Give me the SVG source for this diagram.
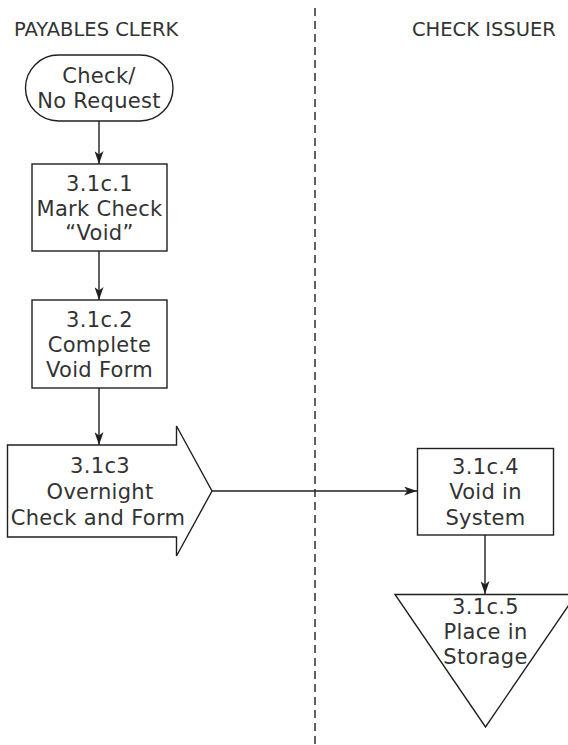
<svg xmlns="http://www.w3.org/2000/svg" width="568" height="745" viewBox="0 0 568 745">
<defs>
<marker id="arr" viewBox="0 0 13 9" refX="13" refY="4.5" markerWidth="13" markerHeight="9" markerUnits="userSpaceOnUse" orient="auto">
<path d="M0,0 L13,4.5 L0,9 L3.5,4.5 z" fill="#231f20"/>
</marker>
</defs>
<style>
.shape{fill:#fff;stroke:#231f20;stroke-width:1.4}
.conn{fill:none;stroke:#231f20;stroke-width:1.4}
.lane{fill:none;stroke:#231f20;stroke-width:1.4;stroke-dasharray:8 5}
text{font-family:"DejaVu Sans",sans-serif;fill:#333;text-anchor:middle}
.hdr{font-size:19.5px;text-anchor:start}
.lbl{font-size:21px;letter-spacing:0.3px}
</style>
<rect width="568" height="745" fill="#fff"/>
<g id="lanes">
<line class="lane" x1="315" y1="8" x2="315" y2="745"/>
<text class="hdr" x="14" y="36">PAYABLES CLERK</text>
<text class="hdr" x="412" y="36">CHECK ISSUER</text>
</g>
<g id="connectors">
<line class="conn" x1="99" y1="121" x2="99" y2="164" marker-end="url(#arr)"/>
<line class="conn" x1="99" y1="251" x2="99" y2="300" marker-end="url(#arr)"/>
<line class="conn" x1="99" y1="388" x2="99" y2="445" marker-end="url(#arr)"/>
<line class="conn" x1="212" y1="491" x2="417" y2="491" marker-end="url(#arr)"/>
<line class="conn" x1="485" y1="535" x2="485" y2="594" marker-end="url(#arr)"/>
</g>
<g id="start">
<rect class="shape" x="25.5" y="55" width="147.5" height="66" rx="33" ry="33"/>
<text class="lbl" x="99" y="83">Check/</text>
<text class="lbl" x="99" y="108">No Request</text>
</g>
<g id="n3-1c-1">
<rect class="shape" x="32" y="164" width="135" height="87"/>
<text class="lbl" x="99.5" y="191">3.1c.1</text>
<text class="lbl" x="99.5" y="216">Mark Check</text>
<text class="lbl" x="99.5" y="240">“Void”</text>
</g>
<g id="n3-1c-2">
<rect class="shape" x="32" y="300" width="135" height="88"/>
<text class="lbl" x="99.5" y="327">3.1c.2</text>
<text class="lbl" x="99.5" y="352">Complete</text>
<text class="lbl" x="99.5" y="377">Void Form</text>
</g>
<g id="n3-1c3">
<path class="shape" d="M7.5,445 L176.5,445 L176.5,426 L212,491 L176.5,556 L176.5,537 L7.5,537 Z"/>
<text class="lbl" x="100" y="473">3.1c3</text>
<text class="lbl" x="100" y="499">Overnight</text>
<text class="lbl" x="98" y="525">Check and Form</text>
</g>
<g id="n3-1c-4">
<rect class="shape" x="417.5" y="448.5" width="136" height="86.5"/>
<text class="lbl" x="485.5" y="474">3.1c.4</text>
<text class="lbl" x="485.5" y="499">Void in</text>
<text class="lbl" x="485.5" y="525">System</text>
</g>
<g id="n3-1c-5">
<path class="shape" d="M395,594.5 L576,594.5 L485.5,727 Z"/>
<text class="lbl" x="485.5" y="614">3.1c.5</text>
<text class="lbl" x="485.5" y="639">Place in</text>
<text class="lbl" x="485.5" y="664">Storage</text>
</g>
</svg>
